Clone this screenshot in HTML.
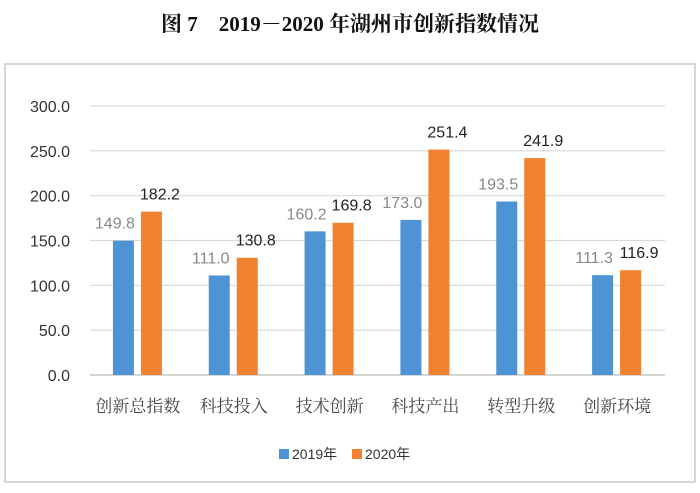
<!DOCTYPE html>
<html><head><meta charset="utf-8"><style>
body{margin:0;background:#fff;width:700px;height:488px;overflow:hidden;}
svg text{font-family:"Liberation Sans","Noto Sans CJK SC",sans-serif;}
</style></head><body>
<svg width="700" height="488" id="c">
<text x="350" y="31" text-anchor="middle" font-size="21" font-weight="bold" style="font-family:'Liberation Serif','Noto Serif CJK SC',serif" fill="#111">图 7　2019－2020 年湖州市创新指数情况</text>
<rect x="5" y="64" width="690" height="418" fill="none" stroke="#c8c8c8" stroke-width="1.5"/>
<g id="g"></g>
<g>
<rect x="279" y="449" width="10" height="10" fill="#4e94d4"/>
<text x="292" y="459" font-size="14" fill="#333">2019年</text>
<rect x="352" y="449" width="10" height="10" fill="#f08131"/>
<text x="365" y="459" font-size="14" fill="#333">2020年</text>
</g>
</svg>
<script>
const categories=["创新总指数","科技投入","技术创新","科技产出","转型升级","创新环境"];
const v2019=[149.8,111.0,160.2,173.0,193.5,111.3];
const v2020=[182.2,130.8,169.8,251.4,241.9,116.9];
const ticks=[0,50,100,150,200,250,300];
const g=document.getElementById('g');const NS="http://www.w3.org/2000/svg";
const x0=90,x1=665,yTop=106,yBot=375,yMax=300;
const y=v=>yBot-(v/yMax)*(yBot-yTop);
const bw=(x1-x0)/categories.length;
function mk(t,a,txt){const e=document.createElementNS(NS,t);for(const k in a)e.setAttribute(k,a[k]);if(txt!=null)e.textContent=txt;g.appendChild(e);return e;}
ticks.forEach(t=>{
 const l=mk('line',{x1:x0,x2:x1,y1:y(t),y2:y(t),stroke:t===0?'#bdbdbd':'#d9d9d9','stroke-width':1.2});
 
 
 const tx=mk('text',{x:70,y:y(t)+6,'text-anchor':'end','font-size':16,fill:'#333'},t.toFixed(1));
 
 
});
categories.forEach((c,i)=>{
 const cx=x0+bw*(i+0.5);
 const a=v2019[i],b=v2020[i];
 const r1=mk('rect',{x:cx-25,y:y(a),width:21,height:yBot-y(a),fill:'#4e94d4'});
 
 
 const r2=mk('rect',{x:cx+3,y:y(b),width:21,height:yBot-y(b),fill:'#f08131'});
 
 
 const t1=mk('text',{x:cx-23,y:y(a)-12,'text-anchor':'middle','font-size':16,fill:'#888'},a.toFixed(1));
 
 
 const t2=mk('text',{x:cx+22,y:y(b)-12,'text-anchor':'middle','font-size':16,fill:'#222'},b.toFixed(1));
 
 
 const cl=mk('text',{x:cx,y:412,'text-anchor':'middle','font-size':17,fill:'#444',style:"font-family:'Noto Serif CJK SC',serif"},c);
 
 
});
</script>
</body></html>
